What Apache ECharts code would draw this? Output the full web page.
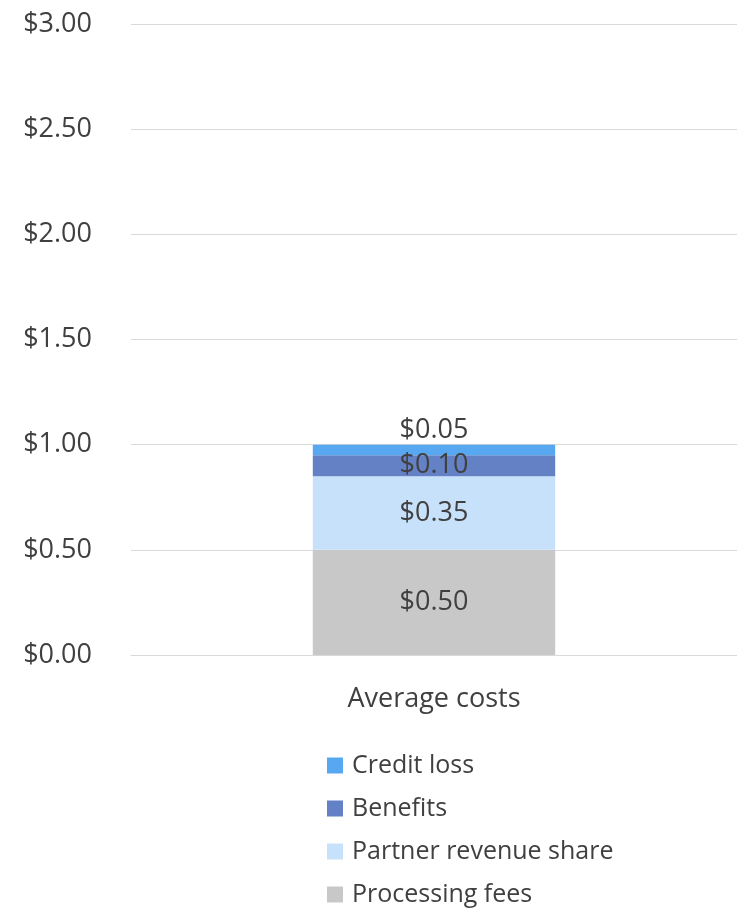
<!DOCTYPE html>
<html><head><meta charset="utf-8">
<script src="https://cdn.jsdelivr.net/npm/echarts@6/dist/echarts.min.js"></script>
<style>html,body{margin:0;padding:0;background:#fff}#c{width:737px;height:916px}</style>
</head><body><div id="c"></div>
<script>
const categories = ["Average costs"];
const seriesNames = ["Processing fees", "Partner revenue share", "Benefits", "Credit loss"];
const processingFees = [0.50];
const partnerRevenueShare = [0.35];
const benefits = [0.10];
const creditLoss = [0.05];
const legendOrder = ["Credit loss", "Benefits", "Partner revenue share", "Processing fees"];
const colors = ["#C8C8C8", "#C8E1FA", "#6381C4", "#57A8F0"];
const values = [processingFees, partnerRevenueShare, benefits, creditLoss];

const font = "'Open Sans', 'Noto Sans', sans-serif";
const txt = "#404040";
const fs = 27;
const chart = echarts.init(document.getElementById('c'));
chart.setOption({
  animation: false,
  textStyle: { fontFamily: font },
  grid: { left: 131, right: 0, top: 24, bottom: 261, containLabel: false },
  legend: {
    orient: 'vertical', left: 327, top: 751, height: 170, padding: 0,
    data: legendOrder, icon: 'rect', itemWidth: 16, itemHeight: 16, itemGap: 14,
    textStyle: { fontFamily: font, fontSize: 25, color: txt, lineHeight: 29, padding: [0,0,0,4] }
  },
  xAxis: {
    type: 'category', data: categories,
    axisLine: { show: true, lineStyle: { color: '#d9d9d9' } },
    axisTick: { show: false },
    axisLabel: { fontFamily: font, fontSize: fs, color: txt, margin: 31 }
  },
  yAxis: {
    type: 'value', min: 0, max: 3, interval: 0.5,
    axisLine: { show: false }, axisTick: { show: false },
    splitLine: { lineStyle: { color: '#d9d9d9', width: 1 } },
    axisLabel: { fontFamily: font, fontSize: fs, color: txt, margin: 39,
      formatter: v => '$' + v.toFixed(2) }
  },
  series: seriesNames.map((n, i) => ({
    name: n, type: 'bar', stack: 'total', data: values[i], barWidth: '40%',
    itemStyle: { color: colors[i] },
    label: {
      show: true, position: i === 3 ? 'top' : 'inside', distance: 1,
      fontFamily: font, fontSize: fs, color: txt,
      formatter: p => '$' + p.value.toFixed(2)
    }
  }))
});
</script></body></html>
